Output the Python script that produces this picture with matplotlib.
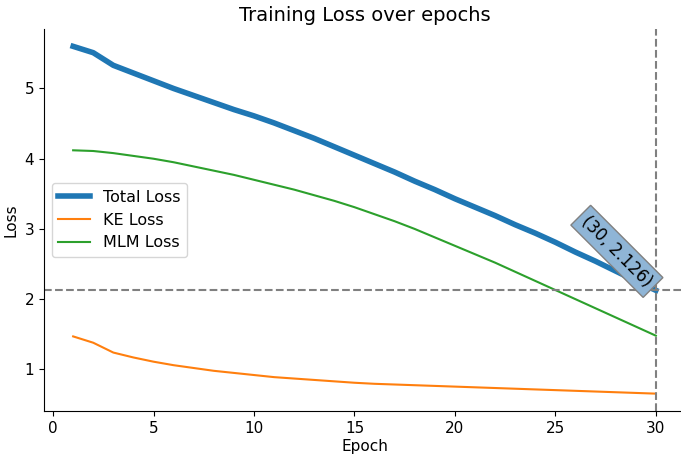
import matplotlib
matplotlib.use("Agg")
import matplotlib.pyplot as plt

epochs = list(range(1, 31))
total_loss = [5.60, 5.51, 5.33, 5.22, 5.11, 5.00, 4.90, 4.80, 4.70, 4.61,
              4.51, 4.40, 4.29, 4.17, 4.05, 3.93, 3.81, 3.68, 3.56, 3.43,
              3.31, 3.19, 3.06, 2.94, 2.81, 2.67, 2.54, 2.40, 2.26, 2.126]
ke_loss = [1.47, 1.38, 1.24, 1.17, 1.11, 1.06, 1.02, 0.98, 0.95, 0.92,
           0.89, 0.87, 0.85, 0.83, 0.81, 0.795, 0.785, 0.775, 0.765, 0.755,
           0.745, 0.735, 0.725, 0.715, 0.705, 0.695, 0.685, 0.675, 0.665, 0.655]
mlm_loss = [4.12, 4.11, 4.08, 4.04, 4.00, 3.95, 3.89, 3.83, 3.77, 3.70,
            3.63, 3.56, 3.48, 3.40, 3.31, 3.21, 3.11, 3.00, 2.88, 2.76,
            2.64, 2.52, 2.39, 2.26, 2.13, 2.00, 1.87, 1.74, 1.61, 1.48]
labels = ["Total Loss", "KE Loss", "MLM Loss"]
last_epoch = epochs[-1]
last_total = total_loss[-1]

fig = plt.figure(figsize=(6.81, 4.58), dpi=100)
ax = fig.add_axes([44/681, 47/458, 641/681, 382/458])

ax.plot(epochs, total_loss, color="C0", linewidth=4, label=labels[0])
ax.plot(epochs, ke_loss, color="C1", linewidth=1.5, label=labels[1])
ax.plot(epochs, mlm_loss, color="C2", linewidth=1.5, label=labels[2])

ax.axhline(last_total, color="gray", linestyle="--", linewidth=1.5)
ax.axvline(last_epoch, color="gray", linestyle="--", linewidth=1.5)

ax.text(last_epoch, last_total, f"({last_epoch}, {last_total})", rotation=-45,
        ha="right", va="bottom", fontsize=12,
        bbox=dict(boxstyle="square", facecolor="#8fb5d6", edgecolor="gray"))

ax.spines["top"].set_visible(False)
ax.spines["right"].set_visible(False)
ax.set_title("Training Loss over epochs", fontsize=14)
ax.set_xlabel("Epoch", fontsize=11, labelpad=2)
ax.set_ylabel("Loss", fontsize=11)
ax.tick_params(labelsize=11)
ax.legend(loc="center left", fontsize=11.5)

fig.savefig("out.png", dpi=100)
